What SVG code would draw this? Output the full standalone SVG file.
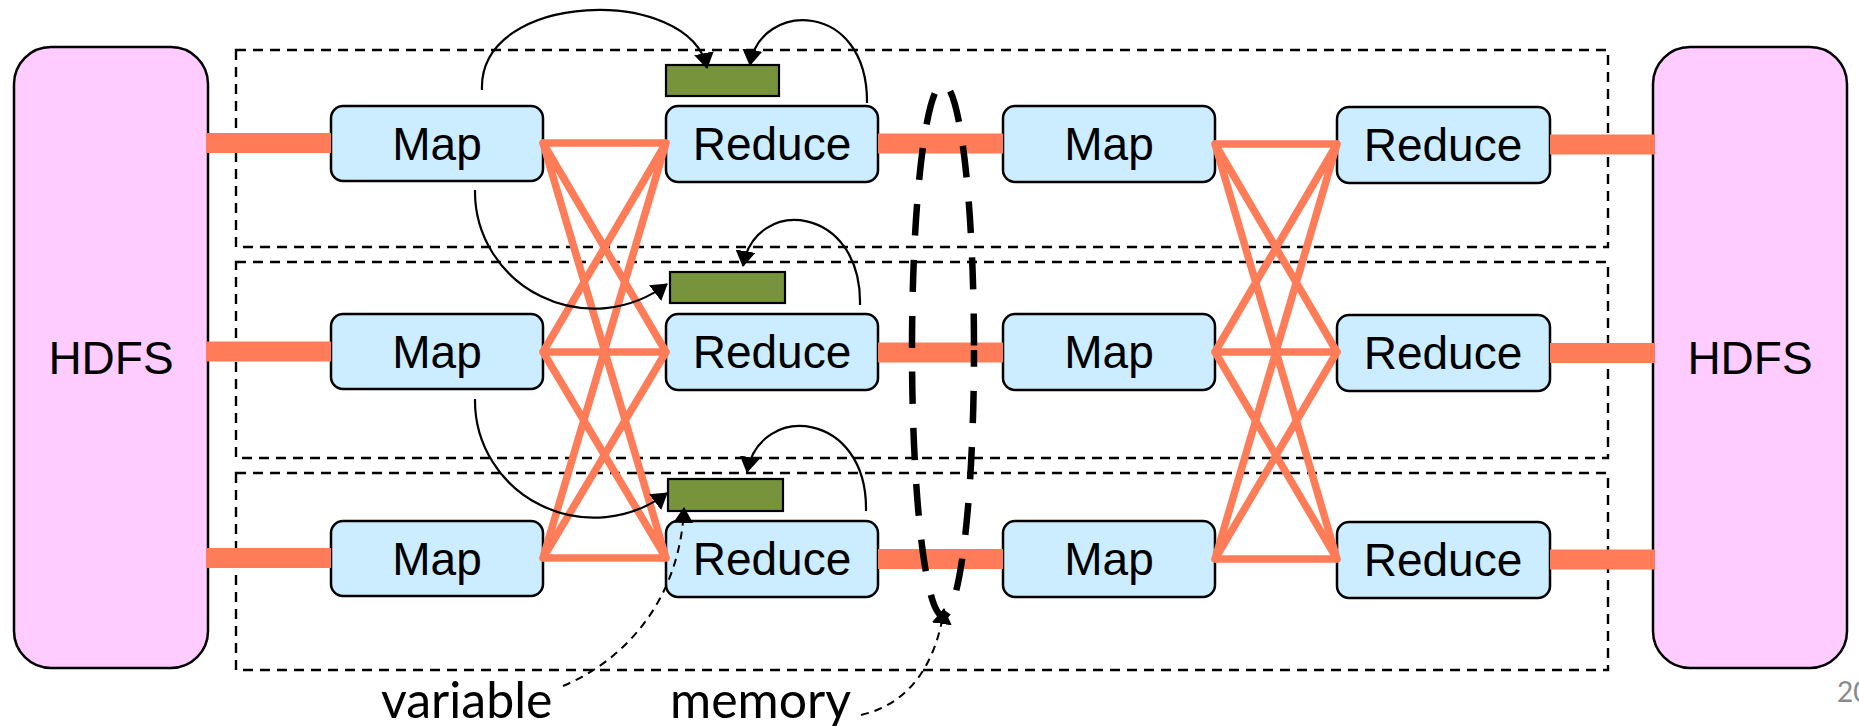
<svg xmlns="http://www.w3.org/2000/svg" width="1859" height="726" viewBox="0 0 1859 726">
  <style>
    .stage { fill: none; stroke: #000; stroke-width: 2.4; stroke-dasharray: 10 7; }
    .hdfs { fill: #FFCCFF; stroke: #000; stroke-width: 2.5; }
    .task { fill: #CCECFF; stroke: #000; stroke-width: 2.5; }
    .buf { fill: #77933C; stroke: #000; stroke-width: 2.2; }
    .lbl { font-family: "Liberation Sans", Arial, sans-serif; font-size: 46px; fill: #000; text-anchor: middle; }
    .note { font-family: Lato, "Open Sans", sans-serif; font-size: 50px; fill: #000; }
    .bar { stroke: #FF7C58; stroke-width: 20; fill: none; }
    .shuf { stroke: #FF7C58; stroke-width: 7.5; fill: none; stroke-linecap: round; }
    .flow { fill: none; stroke: #000; stroke-width: 2.2; marker-end: url(#head); }
    .ptr { fill: none; stroke: #000; stroke-width: 2; stroke-dasharray: 8 6; marker-end: url(#head); }
    .mem { fill: none; stroke: #000; stroke-width: 6.5; stroke-dasharray: 32 24; stroke-dashoffset: 15; }
  </style>
  <defs>
    <marker id="head" viewBox="0 0 16 20" refX="15" refY="10" markerWidth="16" markerHeight="20" markerUnits="userSpaceOnUse" orient="auto">
      <path d="M0,0 L16,10 L0,20 z" fill="#000"/>
    </marker>
  </defs>

  <!-- dashed stage frames, one per pipeline row -->
  <g id="frames">
    <rect class="stage" x="236" y="50" width="1372" height="197"/>
    <rect class="stage" x="236" y="262" width="1372" height="196"/>
    <rect class="stage" x="236" y="473" width="1372" height="197"/>
  </g>

  <!-- storage at both ends -->
  <g id="hdfs-in">
    <rect class="hdfs" x="14" y="47" width="194" height="621" rx="37" ry="37"/>
    <text class="lbl" x="111" y="374">HDFS</text>
  </g>
  <g id="hdfs-out">
    <rect class="hdfs" x="1653" y="47" width="194" height="621" rx="37" ry="37"/>
    <text class="lbl" x="1750" y="374">HDFS</text>
  </g>

  <!-- first MapReduce job -->
  <g id="map1a"><rect class="task" x="331" y="106" width="212" height="75" rx="12"/><text class="lbl" x="437" y="160">Map</text></g>
  <g id="map1b"><rect class="task" x="331" y="314" width="212" height="75" rx="12"/><text class="lbl" x="437" y="368">Map</text></g>
  <g id="map1c"><rect class="task" x="331" y="521" width="212" height="75" rx="12"/><text class="lbl" x="437" y="575">Map</text></g>
  <g id="red1a"><rect class="task" x="666" y="106" width="212" height="76" rx="12"/><text class="lbl" x="772" y="160">Reduce</text></g>
  <g id="red1b"><rect class="task" x="666" y="314" width="212" height="76" rx="12"/><text class="lbl" x="772" y="368">Reduce</text></g>
  <g id="red1c"><rect class="task" x="666" y="521" width="212" height="76" rx="12"/><text class="lbl" x="772" y="575">Reduce</text></g>

  <!-- second MapReduce job -->
  <g id="map2a"><rect class="task" x="1003" y="106" width="212" height="76" rx="12"/><text class="lbl" x="1109" y="160">Map</text></g>
  <g id="map2b"><rect class="task" x="1003" y="314" width="212" height="76" rx="12"/><text class="lbl" x="1109" y="368">Map</text></g>
  <g id="map2c"><rect class="task" x="1003" y="521" width="212" height="76" rx="12"/><text class="lbl" x="1109" y="575">Map</text></g>
  <g id="red2a"><rect class="task" x="1337" y="107" width="213" height="76" rx="12"/><text class="lbl" x="1443" y="161">Reduce</text></g>
  <g id="red2b"><rect class="task" x="1337" y="315" width="213" height="76" rx="12"/><text class="lbl" x="1443" y="369">Reduce</text></g>
  <g id="red2c"><rect class="task" x="1337" y="522" width="213" height="76" rx="12"/><text class="lbl" x="1443" y="576">Reduce</text></g>

  <!-- in-memory variables held by the reducers -->
  <g id="var-a"><rect class="buf" x="666" y="65" width="113" height="31"/></g>
  <g id="var-b"><rect class="buf" x="670" y="272" width="115" height="31"/></g>
  <g id="var-c"><rect class="buf" x="668" y="479" width="115" height="32"/></g>

  <g id="connectors">
    <!-- HDFS / job-to-job data pipes -->
    <line class="bar" x1="206" y1="143" x2="331" y2="143"/>
    <line class="bar" x1="206" y1="351.5" x2="331" y2="351.5"/>
    <line class="bar" x1="206" y1="558" x2="331" y2="558"/>
    <line class="bar" x1="878" y1="143.5" x2="1003" y2="143.5"/>
    <line class="bar" x1="878" y1="352.5" x2="1003" y2="352.5"/>
    <line class="bar" x1="878" y1="559" x2="1003" y2="559"/>
    <line class="bar" x1="1550" y1="144.5" x2="1655" y2="144.5"/>
    <line class="bar" x1="1550" y1="353" x2="1655" y2="353"/>
    <line class="bar" x1="1550" y1="559.5" x2="1655" y2="559.5"/>

    <!-- shuffle, job 1 -->
    <path class="shuf" d="M543,143 L666,143 M543,143 L666,352 M543,143 L666,558
                         M543,352 L666,143 M543,352 L666,352 M543,352 L666,558
                         M543,558 L666,143 M543,558 L666,352 M543,558 L666,558"/>
    <!-- shuffle, job 2 -->
    <path class="shuf" d="M1215,144 L1337,144 M1215,144 L1337,352 M1215,144 L1337,559
                         M1215,352 L1337,144 M1215,352 L1337,352 M1215,352 L1337,559
                         M1215,559 L1337,144 M1215,559 L1337,352 M1215,559 L1337,559"/>

    <!-- writes into the reducer-side variables -->
    <path class="flow" d="M482,90 C478,-10 690,-15 707,68"/>
    <path class="flow" d="M867,103 C868,0 760,0 750,65"/>
    <path class="flow" d="M475,190 A119,117 0 0 0 667,284"/>
    <path class="flow" d="M860,305 C862,205 755,195 743,266"/>
    <path class="flow" d="M475,399 A119,117 0 0 0 667,493"/>
    <path class="flow" d="M866,511 C868,411 760,401 747,472"/>

    <!-- annotation pointers -->
    <path class="ptr" d="M563,686 C625,660 680,600 684,508"/>
    <path class="ptr" d="M861,715 C905,705 935,670 944,609"/>
  </g>

  <!-- memory boundary between the two jobs -->
  <g id="memory-loop">
    <ellipse class="mem" cx="943" cy="350" rx="31" ry="266"/>
  </g>

  <g id="notes">
    <text class="note" x="381" y="718">variable</text>
    <text class="note" x="670" y="718">memory</text>
    <text x="1837" y="702" font-family="Lato, 'Open Sans', sans-serif" font-size="28" fill="#8a8a8a">20</text>
  </g>
</svg>
